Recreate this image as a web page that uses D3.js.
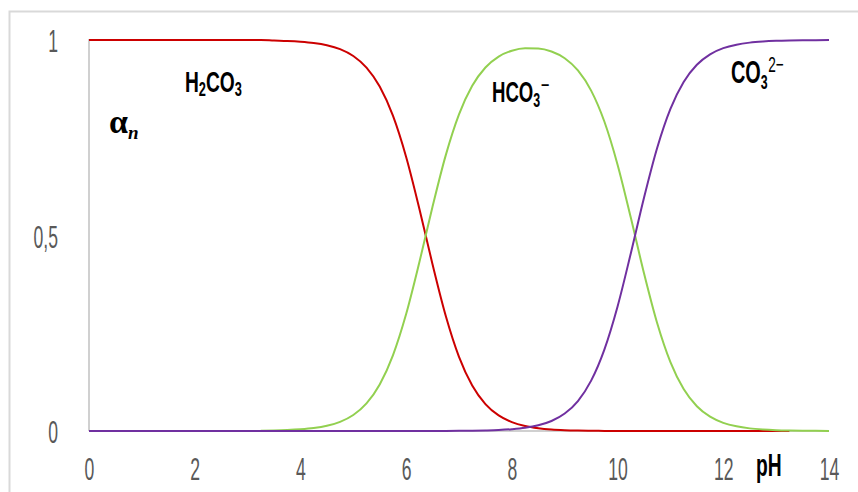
<!DOCTYPE html>
<html>
<head>
<meta charset="utf-8">
<script src="https://cdn.jsdelivr.net/npm/d3@7"></script>
<style>
  html, body { margin: 0; padding: 0; background: #fff; }
  svg { display: block; }
</style>
</head>
<body>
<svg id="my_viz"></svg>
<script>
// pH grid, step 0.25
var ph = d3.range(0, 14.001, 0.25);

// fractions (null = not drawn)
var h2co3 = [1, 1, 1, 1, 1, 1, 1, 1, 1, 1, 1, 1, 1, 1, 0.9987, 0.9976,
  0.9957, 0.9925, 0.9867, 0.9766, 0.9591, 0.9295, 0.8811, 0.8065,
  0.7010, 0.5687, 0.4258, 0.2942, 0.1898, 0.1164, 0.0689, 0.0399,
  0.0228, 0.0129, 0.0073, 0.0040, 0.0022, 0.0012, 0.0006, 0.0003,
  0.0002, 0.0001, 0, 0, 0, 0, 0, 0, 0, 0, 0, 0, 0, 0, null, null, null];

var hco3 = [null, null, null, null, null, null, null, null, null, null, null, null, null, 0.0008, 0.0013, 0.0024,
  0.0043, 0.0075, 0.0133, 0.0234, 0.0409, 0.0705, 0.1189, 0.1935,
  0.2990, 0.4313, 0.5741, 0.7056, 0.8098, 0.8829, 0.9297, 0.9576,
  0.9727, 0.9790, 0.9783, 0.9705, 0.9533, 0.9221, 0.8706, 0.7915,
  0.6812, 0.5459, 0.4034, 0.2755, 0.1761, 0.1073, 0.0633, 0.0366,
  0.0209, 0.0119, 0.0067, 0.0038, 0.0021, 0.0012, 0.0007, 0.0004, 0.0002];

var co3 = [0, 0, 0, 0, 0, 0, 0, 0, 0, 0, 0, 0, 0, 0, 0, 0,
  0, 0, 0, 0, 0, 0, 0, 0,
  0, 0, 0.0001, 0.0002, 0.0004, 0.0007, 0.0014, 0.0025,
  0.0046, 0.0081, 0.0145, 0.0255, 0.0446, 0.0767, 0.1288, 0.2082,
  0.3186, 0.4541, 0.5966, 0.7245, 0.8239, 0.8927, 0.9367, 0.9634,
  0.9791, 0.9881, 0.9933, 0.9962, 0.9979, 0.9988, 0.9993, 0.9996, 0.9998];

var xTicks = [0, 2, 4, 6, 8, 10, 12, 14];
var yTicks = [0, 0.5, 1];

var svg_width = 858,
    svg_height = 492;

var svg = d3.select("#my_viz")
  .attr("width", svg_width)
  .attr("height", svg_height);

// scales
var x = d3.scaleLinear().domain([0, 14]).range([89, 829]);
var y = d3.scaleLinear().domain([0, 1]).range([431, 40]);

// outer frame (only top and left edge are visible)
svg.append("path")
  .attr("d", "M9.5,492 V11.5 H858")
  .attr("fill", "none")
  .attr("stroke", "#d9d9d9")
  .attr("stroke-width", 2);

// axis lines
svg.append("line")
  .attr("x1", x(0)).attr("x2", x(0))
  .attr("y1", y(1) - 1).attr("y2", y(0))
  .attr("stroke", "#c0c0c0")
  .attr("stroke-width", 1.5);
svg.append("line")
  .attr("x1", x(0)).attr("x2", x(14))
  .attr("y1", y(0)).attr("y2", y(0))
  .attr("stroke", "#c0c0c0")
  .attr("stroke-width", 1.5);

var sx = 0.55; // condensed look of the tick font

// x tick labels
var xAxis = svg.append("g")
  .attr("transform", "translate(0," + y(0) + ")")
  .call(d3.axisBottom(x).tickValues(xTicks).tickSize(0).tickPadding(26));
xAxis.select(".domain").remove();
xAxis.selectAll("text")
  .style("font-family", "'Liberation Sans', Arial, sans-serif")
  .style("font-size", "32px")
  .attr("fill", "#595959")
  .attr("transform", "scale(" + sx + ",1)");

// y tick labels
var yAxis = svg.append("g")
  .attr("transform", "translate(" + x(0) + ",0)")
  .call(d3.axisLeft(y).tickValues(yTicks).tickSize(0)
    .tickFormat(d => d3.format("")(d).replace(".", ",")));
yAxis.select(".domain").remove();
yAxis.selectAll("text")
  .style("font-family", "'Liberation Sans', Arial, sans-serif")
  .style("font-size", "32px")
  .attr("fill", "#595959")
  .attr("x", -31 / sx)
  .attr("dy", "0.36em")
  .attr("transform", "scale(" + sx + ",1)");

// curves
var series = [
  {name: "H2CO3", values: h2co3, color: "#cc0000"},
  {name: "HCO3", values: hco3, color: "#92d050"},
  {name: "CO3", values: co3, color: "#7030a0"}
];

var line = d3.line()
  .defined(d => d[1] != null)
  .x(d => x(d[0]))
  .y(d => y(d[1]))
  .curve(d3.curveMonotoneX);

svg.append("g").attr("id", "plot")
  .selectAll("path")
  .data(series)
  .enter()
  .append("path")
  .attr("d", s => line(ph.map((p, i) => [p, s.values[i]])))
  .attr("fill", "none")
  .attr("stroke", s => s.color)
  .attr("stroke-width", 2);

// labels
function label(px, py, scaleX) {
  return svg.append("text")
    .attr("transform", "translate(" + px + "," + py + ") scale(" + scaleX + ",1)")
    .style("font-family", "'Liberation Sans', Arial, sans-serif")
    .style("font-weight", "bold")
    .attr("fill", "#000");
}

// H2CO3
var t1 = label(185, 92, 0.64).style("font-size", "30px");
t1.append("tspan").text("H");
t1.append("tspan").text("2").style("font-size", "20px").attr("dy", 4);
t1.append("tspan").text("CO").attr("dy", -4);
t1.append("tspan").text("3").style("font-size", "20px").attr("dy", 4);

// HCO3-
var t2 = label(492, 102, 0.62).style("font-size", "30px");
t2.append("tspan").text("HCO");
t2.append("tspan").text("3").style("font-size", "20px").attr("dy", 5);
t2.append("tspan").text("\u2212").style("font-size", "24px").style("font-weight", "normal").attr("dy", -14).attr("dx", 1);

// CO3 2-
var t3 = label(731, 83, 0.62).style("font-size", "32px");
t3.append("tspan").text("CO");
t3.append("tspan").text("3").style("font-size", "20px").attr("dy", 6);
t3.append("tspan").text("2\u2212").style("font-size", "22px").style("font-weight", "normal").attr("dy", -17).attr("dx", 1);

// pH
label(756, 476, 0.62).style("font-size", "31px").text("pH");

// alpha_n
var t4 = svg.append("text")
  .attr("x", 109).attr("y", 133)
  .style("font-family", "'Liberation Serif', 'Times New Roman', serif")
  .style("font-weight", "bold")
  .style("font-size", "34px")
  .attr("fill", "#000");
t4.append("tspan").text("\u03b1");
t4.append("tspan").text("n").style("font-size", "19px").style("font-style", "italic").attr("dy", 6);
</script>
</body>
</html>
